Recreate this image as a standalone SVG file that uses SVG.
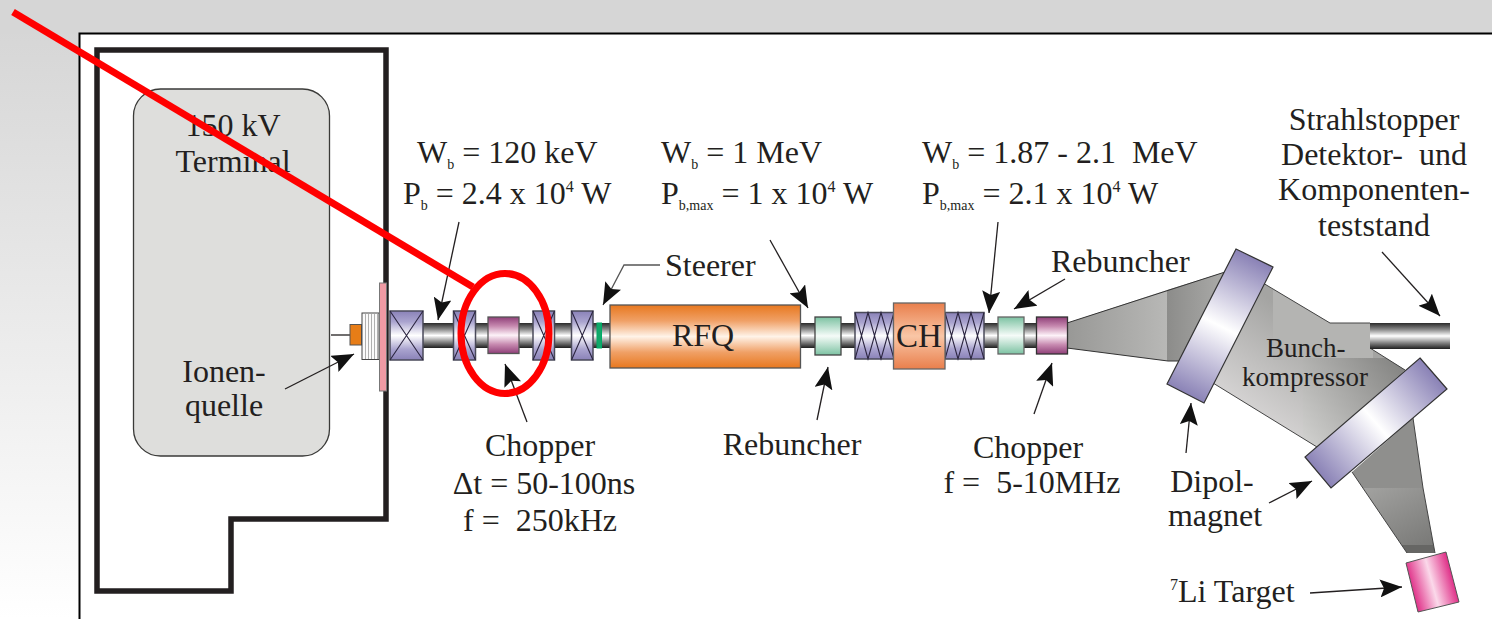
<svg xmlns="http://www.w3.org/2000/svg" width="1492" height="619" viewBox="0 0 1492 619">
<style>
text{font-family:"Liberation Serif","Times New Roman",serif;font-size:32px;fill:#231f20}
.c{text-anchor:middle}
.sub{font-size:14px}
.sup{font-size:16px}
.m{stroke:#4a4a5a;stroke-width:1.5}
.x{fill:none;stroke:#2b2540;stroke-width:1.1}
.a{fill:none;stroke:#231f20;stroke-width:1.3;marker-end:url(#ah)}
.b{stroke:none}
</style>
<defs>
<marker id="ah" viewBox="0 0 22 18" refX="22" refY="9" markerWidth="22" markerHeight="18" markerUnits="userSpaceOnUse" orient="auto"><path d="M0 0L22 9L0 18L4 9Z" fill="#111"/></marker>
<linearGradient id="bg" x1="0" y1="0" x2="0" y2="1"><stop offset="0" stop-color="#d4d4d4"/><stop offset="1" stop-color="#fff"/></linearGradient>
<linearGradient id="pipe" x1="0" y1="0" x2="0" y2="1"><stop offset="0" stop-color="#2a2a2a"/><stop offset=".25" stop-color="#8a8a8a"/><stop offset=".5" stop-color="#fff"/><stop offset=".75" stop-color="#8a8a8a"/><stop offset="1" stop-color="#1e1e1e"/></linearGradient>
<linearGradient id="mag" x1="0" y1="0" x2="0" y2="1"><stop offset="0" stop-color="#8a82b8"/><stop offset=".22" stop-color="#aaa4cf"/><stop offset=".5" stop-color="#fff"/><stop offset=".78" stop-color="#aaa4cf"/><stop offset="1" stop-color="#8a82b8"/></linearGradient>
<linearGradient id="chop" x1="0" y1="0" x2="0" y2="1"><stop offset="0" stop-color="#8f3f78"/><stop offset=".25" stop-color="#c78ab0"/><stop offset=".5" stop-color="#fdf2f8"/><stop offset=".75" stop-color="#c78ab0"/><stop offset="1" stop-color="#8f3f78"/></linearGradient>
<linearGradient id="reb" x1="0" y1="0" x2="0" y2="1"><stop offset="0" stop-color="#7cc2a2"/><stop offset=".5" stop-color="#f5fbf8"/><stop offset="1" stop-color="#7cc2a2"/></linearGradient>
<linearGradient id="rfq" x1="0" y1="0" x2="0" y2="1"><stop offset="0" stop-color="#e8781f"/><stop offset=".25" stop-color="#f0a066"/><stop offset=".5" stop-color="#fff3e8"/><stop offset=".75" stop-color="#f0a066"/><stop offset="1" stop-color="#e8781f"/></linearGradient>
<linearGradient id="ch" x1="0" y1="0" x2="0" y2="1"><stop offset="0" stop-color="#e97f4c"/><stop offset=".5" stop-color="#f9c6a6"/><stop offset="1" stop-color="#e97f4c"/></linearGradient>
<linearGradient id="dipA" gradientUnits="userSpaceOnUse" x1="1254" y1="258" x2="1186" y2="394"><stop offset="0" stop-color="#8a82b6"/><stop offset=".5" stop-color="#fff"/><stop offset="1" stop-color="#8a82b6"/></linearGradient>
<linearGradient id="dipB" gradientUnits="userSpaceOnUse" x1="1433" y1="373" x2="1318" y2="472"><stop offset="0" stop-color="#8a82b6"/><stop offset=".5" stop-color="#fff"/><stop offset="1" stop-color="#8a82b6"/></linearGradient>
<linearGradient id="tgt" gradientUnits="userSpaceOnUse" x1="1412" y1="588" x2="1452" y2="577"><stop offset="0" stop-color="#e0338a"/><stop offset=".5" stop-color="#fbd9ea"/><stop offset="1" stop-color="#e0338a"/></linearGradient>
<linearGradient id="beamA" x1="0" y1="0" x2="1" y2="0"><stop offset="0" stop-color="#989896"/><stop offset="1" stop-color="#b8b8b6"/></linearGradient>
<linearGradient id="beamA2" x1="0" y1="0" x2="1" y2="0"><stop offset="0" stop-color="#8c8c8a"/><stop offset="1" stop-color="#ababa9"/></linearGradient>
<linearGradient id="beamB" gradientUnits="userSpaceOnUse" x1="1300" y1="320" x2="1230" y2="420"><stop offset="0" stop-color="#a4a4a2"/><stop offset="1" stop-color="#dedcdc"/></linearGradient>
<linearGradient id="beamB2" gradientUnits="userSpaceOnUse" x1="1400" y1="365" x2="1303" y2="440"><stop offset="0" stop-color="#858583"/><stop offset="1" stop-color="#d0d0ce"/></linearGradient>
<linearGradient id="beamC" x1="0" y1="0" x2="1" y2="1"><stop offset="0" stop-color="#a8a8a6"/><stop offset="1" stop-color="#777775"/></linearGradient>
<clipPath id="clipB"><path d="M1263 283L1330 323H1370V348L1405 370L1317 447L1213 383Z"/></clipPath>
<clipPath id="clipC"><path d="M1352 472L1413 418L1423 488L1435 553H1407Z"/></clipPath>
</defs>
<rect id="background" width="1492" height="619" fill="#fff"/>
<rect x="0" y="0" width="80" height="619" fill="url(#bg)"/>
<rect x="0" y="0" width="1492" height="34" fill="#d6d6d6"/>
<path d="M79.500 619V33.500H1492" fill="none" stroke="#000" stroke-width="2"/>

<g id="enclosure"><path d="M97 50H386V519H231V591H97Z" fill="none" stroke="#231f20" stroke-width="5.500"/></g>
<g id="terminal"><rect x="133.500" y="89" width="196" height="367" rx="27" fill="#dededc" stroke="#3a3a38" stroke-width="1.300"/>
<text class="c" x="233" y="136">150 kV</text><text class="c" x="233" y="172">Terminal</text></g>

<g id="beamline">
<rect x="423" y="323" width="187" height="25" fill="url(#pipe)"/>
<rect x="800" y="323" width="100" height="25" fill="url(#pipe)"/>
<rect x="984" y="323" width="54" height="25" fill="url(#pipe)"/>
</g>
<g id="ion-source">
<path d="M331 335H350" stroke="#231f20" stroke-width="1.300"/>
<rect x="350" y="324.500" width="11.500" height="20.500" fill="#e77d17" stroke="#555"/>
<rect x="362" y="313" width="17" height="46.500" fill="#fbfbfb" stroke="#444"/>
<path d="M365.500 314V359M368.500 314V359M371.500 314V359M374.500 314V359M377.500 314V359" stroke="#b0b0b0"/>
<rect x="379.500" y="283" width="7" height="108" fill="#f09aa4" stroke="#777"/>
</g>
<g id="magnet-1"><rect class="m" x="390" y="311" width="33" height="49" fill="url(#mag)"/><path class="x" d="M390 311L423 360M423 311L390 360"/></g>
<g id="magnet-2"><rect class="m" x="453.500" y="311" width="22" height="49" fill="url(#mag)"/><path class="x" d="M453.500 311L475.500 360M475.500 311L453.500 360"/></g>
<g id="chopper-1"><rect x="488" y="317" width="31" height="36.500" fill="url(#chop)" stroke="#555" stroke-width="1.300"/></g>
<g id="magnet-3"><rect class="m" x="533" y="311" width="21.500" height="49" fill="url(#mag)"/><path class="x" d="M533 311L554.500 360M554.500 311L533 360"/></g>
<g id="magnet-4"><rect class="m" x="571.500" y="311" width="21.500" height="49" fill="url(#mag)"/><path class="x" d="M571.500 311L593 360M593 311L571.500 360"/></g>
<g id="steerer"><rect x="597" y="323" width="4.500" height="25" fill="#12a86a" stroke="#0a6"/></g>
<g id="rfq-node"><rect x="610" y="305" width="190.500" height="63" fill="url(#rfq)" stroke="#555" stroke-width="1.300"/><text class="c" x="703" y="346">RFQ</text></g>
<g id="rebuncher-1"><rect x="815" y="317" width="26" height="38" fill="url(#reb)" stroke="#444" stroke-width="1.300"/></g>
<g id="magnet-5"><rect class="m" x="855" y="312.500" width="39" height="46.500" fill="url(#mag)"/><path class="x" d="M855 312.500L868 359L881 312.500L894 359M855 359L868 312.500L881 359L894 312.500"/></g>
<g id="magnet-6"><rect class="m" x="945" y="312.500" width="39" height="46.500" fill="url(#mag)"/><path class="x" d="M945 312.500L958 359L971 312.500L984 359M945 359L958 312.500L971 359L984 312.500"/></g>
<g id="ch-node"><rect x="893.500" y="303" width="51.500" height="66" fill="url(#ch)" stroke="#666" stroke-width="1.300"/><text class="c" x="919" y="347" style="font-size:33px">CH</text></g>
<g id="rebuncher-2"><rect x="998" y="317" width="26" height="37" fill="url(#reb)" stroke="#666" stroke-width="1.300"/></g>

<g id="beam">
<path d="M1067 323L1167 290V361L1067 348Z" fill="url(#beamA)" class="b"/>
<path d="M1167 290L1225 272L1190 361H1167Z" fill="url(#beamA2)" class="b"/>
<path d="M1067 323L1225 272M1067 348L1168 361H1190" fill="none" stroke="#333"/>
<g clip-path="url(#clipB)">
<rect x="1200" y="270" width="220" height="190" fill="url(#beamB)"/>
<rect x="1273" y="280" width="100" height="80" fill="#b4b4b2"/>
<rect x="1303" y="358" width="110" height="100" fill="url(#beamB2)"/>
</g>
<path d="M1263 283L1330 323H1370M1370 348L1405 370M1317 447L1213 383" fill="none" stroke="#444"/>
<g clip-path="url(#clipC)">
<rect x="1340" y="410" width="100" height="78" fill="#8f8f8d"/>
<rect x="1340" y="488" width="100" height="57" fill="url(#beamC)"/>
<rect x="1340" y="545" width="100" height="10" fill="#666664"/>
</g>
<path d="M1352 472L1407 553M1413 418L1423 488L1435 553" fill="none" stroke="#444"/>
<rect x="1370" y="323" width="80" height="26" fill="url(#pipe)"/>
</g>
<g id="chopper-2"><rect x="1036.500" y="317" width="31" height="37" fill="url(#chop)" stroke="#333" stroke-width="1.300"/></g>
<g id="dipole-1"><polygon points="1236,249 1273,267 1204,403 1167,384" fill="url(#dipA)" stroke="#333" stroke-width="1.200"/></g>
<g id="dipole-2"><polygon points="1420,358 1447,389 1331,488 1305,457" fill="url(#dipB)" stroke="#333" stroke-width="1.200"/></g>
<g id="target"><polygon points="1406,563 1446,552 1459,602 1418,612" fill="url(#tgt)" stroke="#555"/></g>

<g id="connectors">
<path class="a" d="M459 222L438 320"/>
<path class="a" d="M285 389L354 354"/>
<path class="a" d="M527 422L505 364"/>
<path class="a" d="M660 265H624L603 305" style="stroke:#555"/>
<path class="a" d="M770 240L808 308"/>
<path class="a" d="M817 420L828 367"/>
<path class="a" d="M998 222L989 313"/>
<path class="a" d="M1065 279L1014 309"/>
<path class="a" d="M1034 414L1052 363"/>
<path class="a" d="M1382 252L1440 316"/>
<path class="a" d="M1186 453L1191 403"/>
<path class="a" d="M1269 503L1312 481"/>
<path class="a" d="M1310 593L1402 587"/>
</g>

<g id="labels">
<text class="c" x="224" y="382">Ionen-</text><text class="c" x="224" y="416">quelle</text>
<text x="417" y="163">W<tspan class="sub" dy="6">b</tspan><tspan dy="-6"> = 120 keV</tspan></text>
<text x="403" y="204">P<tspan class="sub" dy="6">b</tspan><tspan dy="-6"> = 2.4 x 10</tspan><tspan class="sup" dy="-12">4</tspan><tspan dy="12"> W</tspan></text>
<text x="661" y="163">W<tspan class="sub" dy="6">b</tspan><tspan dy="-6"> = 1 MeV</tspan></text>
<text x="661" y="204">P<tspan class="sub" dy="6">b,max</tspan><tspan dy="-6"> = 1 x 10</tspan><tspan class="sup" dy="-12">4</tspan><tspan dy="12"> W</tspan></text>
<text x="922" y="163" xml:space="preserve">W<tspan class="sub" dy="6">b</tspan><tspan dy="-6"> = 1.87 - 2.1  MeV</tspan></text>
<text x="922" y="204">P<tspan class="sub" dy="6">b,max</tspan><tspan dy="-6"> = 2.1 x 10</tspan><tspan class="sup" dy="-12">4</tspan><tspan dy="12"> W</tspan></text>
<text class="c" x="1374" y="130">Strahlstopper</text>
<text class="c" x="1374" y="165" xml:space="preserve">Detektor-  und</text>
<text class="c" x="1374" y="200">Komponenten-</text>
<text class="c" x="1374" y="236">teststand</text>
<text x="665" y="276">Steerer</text>
<text x="1051" y="272">Rebuncher</text>
<text class="c" x="792" y="455">Rebuncher</text>
<text class="c" x="540" y="456">Chopper</text>
<text class="c" x="544" y="494">Δt = 50-100ns</text>
<text class="c" x="540" y="531" xml:space="preserve">f =  250kHz</text>
<text class="c" x="1028" y="458">Chopper</text>
<text class="c" x="1032" y="493" xml:space="preserve">f =  5-10MHz</text>
<text class="c" x="1212" y="492">Dipol-</text>
<text class="c" x="1215" y="526">magnet</text>
<text x="1170" y="602"><tspan class="sup" dy="-12">7</tspan><tspan dy="12">Li Target</tspan></text>
<text x="1266" y="357" style="font-size:27px">Bunch-</text>
<text x="1242" y="386" style="font-size:27px">kompressor</text>
</g>

<g id="annotation" fill="none" stroke="#f00" stroke-width="7">
<path d="M13 12L473 287"/>
<ellipse cx="505" cy="333.500" rx="44" ry="60"/>
</g>
</svg>
